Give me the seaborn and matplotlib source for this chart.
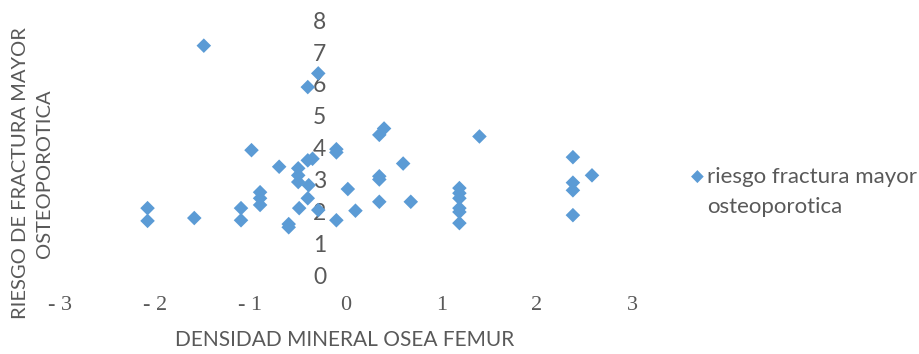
import matplotlib
matplotlib.use('Agg')
import matplotlib.pyplot as plt
import seaborn as sns
import pandas as pd

# Data
densidad = [-1.49, -0.29, -0.40, 0.40, 0.35, 1.40, -0.99, -0.10, -0.10, 2.38,
            -0.70, -0.50, -0.40, -0.35, -0.50, -0.50, -0.39, -0.40, -0.49, -0.29,
            -0.60, -0.60, -0.10, 0.02, 0.10, 0.35, 0.35, 0.35, 0.60, 0.68,
            1.19, 1.19, 1.19, 1.19, 1.19, 1.19, 2.38, 2.38, 2.38, 2.58,
            -2.08, -2.08, -1.59, -1.10, -1.10, -0.90, -0.90, -0.90]
riesgo = [7.2, 6.33, 5.9, 4.6, 4.4, 4.35, 3.92, 3.95, 3.85, 3.7,
          3.4, 3.35, 3.6, 3.65, 3.13, 2.92, 2.82, 2.41, 2.1, 2.04,
          1.6, 1.5, 1.72, 2.7, 2.02, 3.1, 3.0, 2.3, 3.5, 2.3,
          2.73, 2.57, 2.41, 2.1, 1.98, 1.63, 2.9, 2.66, 1.88, 3.13,
          2.1, 1.7, 1.79, 2.1, 1.72, 2.6, 2.41, 2.2]

x_ticks = [-3, -2, -1, 0, 1, 2, 3]
x_labels = ['- 3', '- 2', '- 1', '0', '1', '2', '3']
y_ticks = [0, 1, 2, 3, 4, 5, 6, 7, 8]

serie = 'riesgo fractura mayor\nosteoporotica'
df = pd.DataFrame({'x': densidad, 'y': riesgo, 'serie': serie})

sns.set_style('white')
plt.rcParams['font.family'] = ['Lato', 'DejaVu Sans']

fig = plt.figure(figsize=(9.2, 3.54), dpi=100)
ax = fig.add_axes([0.065, 0.223, 0.622, 0.72])

sns.scatterplot(data=df, x='x', y='y', hue='serie', palette=['#5B9BD5'],
                marker='D', s=55, edgecolor='none', ax=ax, legend=False)

ax.set_xlim(-3, 3)
ax.set_ylim(0, 8)

# axes cross at zero like the Excel chart, lines hidden
ax.spines['left'].set_position(('data', 0))
ax.spines['bottom'].set_position(('data', 0))
for s in ['left', 'bottom', 'top', 'right']:
    ax.spines[s].set_visible(False)

ax.set_xticks(x_ticks)
ax.set_xticklabels(x_labels, family='Liberation Serif', fontsize=16, color='#595959')
ax.set_yticks(y_ticks)
ax.set_yticklabels([str(v) for v in y_ticks], fontsize=16.5, color='#595959')
ax.tick_params(axis='x', length=0, pad=15)
ax.tick_params(axis='y', length=0, pad=14)
ax.grid(False)
ax.set_xlabel('')
ax.set_ylabel('')

fig.text(0.375, 0.04, 'DENSIDAD MINERAL OSEA FEMUR', ha='center', va='center',
         fontsize=15, color='#595959')
# y title, two lines drawn separately
fig.text(0.022, 0.51, 'RIESGO DE FRACTURA MAYOR', ha='center', va='center',
         rotation=90, fontsize=14.5, color='#595959')
fig.text(0.048, 0.51, 'OSTEOPOROTICA', ha='center', va='center',
         rotation=90, fontsize=14.5, color='#595959')

# legend
fig.text(0.758, 0.5, '\u25c6', ha='center', va='center', fontsize=12,
         color='#5B9BD5', family='DejaVu Sans')
fig.text(0.769, 0.5, 'riesgo fractura mayor', ha='left', va='center',
         fontsize=16, color='#595959')
fig.text(0.769, 0.415, 'osteoporotica', ha='left', va='center',
         fontsize=16, color='#595959')

fig.savefig('out.png', dpi=100)
